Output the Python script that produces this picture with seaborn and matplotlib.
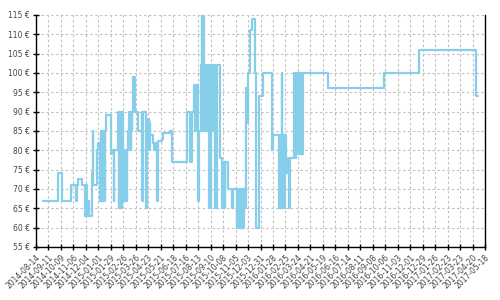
import matplotlib
matplotlib.use("Agg")
import matplotlib.pyplot as plt
import seaborn as sns
import pandas as pd

start_date = "2014-08-14"
end_date = "2017-05-18"

# days since start_date at which the price changes (step-post)
day = [16, 50, 58, 78, 90, 92, 95, 103, 109, 110, 113, 115, 117, 118, 126, 128, 129, 138, 140, 142,
       144, 145, 146, 147, 148, 149, 150, 151, 152, 153, 154, 155, 156,
       157, 168, 170, 175, 176,
       185, 186, 187, 188, 189, 190, 191, 192, 193, 194, 195,
       196, 197, 198, 199, 200, 201, 202, 203, 204, 205,
       206, 209, 211, 212, 213, 214, 215, 216, 218, 223, 230, 237, 239, 240, 248,
       249, 250, 251, 252, 253, 254, 255,
       256, 262, 265, 268, 272, 273, 282, 286, 301, 305, 340, 346, 350,
       355, 356, 357, 358, 359, 360, 361, 363, 365,
       370, 372, 373, 374, 375, 376, 378, 379, 380, 381, 382, 383, 384, 385, 386, 387, 388,
       390, 391, 392, 393, 394, 395, 396, 397, 398, 399, 400, 401, 402, 406,
       413, 414, 417, 423, 424, 425, 432, 441, 442,
       451, 452, 453, 454, 455, 456, 457, 458, 459, 460, 461, 462, 463, 464, 465, 466, 467, 468,
       469, 471, 472, 473, 474, 475, 476, 477, 480, 484, 491, 493, 501, 509, 529, 533,
       546, 547, 548, 549, 550, 551, 552, 553, 554, 555, 556, 557, 558, 559, 560,
       561, 562, 563, 564, 565, 566, 567, 568, 569, 570,
       580, 581, 582, 583, 584, 585,
       589, 590, 591, 592, 593, 594, 595, 596, 597, 598, 599,
       655, 781, 860, 988, 993]

price = [67, 74, 67, 71, 67, 71, 72.5, 71, 68, 63, 71, 63, 67, 63, 74, 85, 71, 80, 82, 80,
         67, 85, 80, 67, 85, 67, 82, 85, 67, 85, 80, 67, 85,
         89, 79, 80, 67, 80,
         90, 65, 90, 80, 65, 90, 65, 90, 80, 90, 80,
         67, 80, 67, 80, 67, 80, 67, 80, 67, 80,
         85, 90, 80, 90, 80, 90, 85, 90, 99, 90, 85, 90, 67, 90, 65,
         88, 80, 87, 80, 88, 80, 87,
         84, 82, 80, 82, 67, 82.5, 83, 84.5, 85, 77, 90, 77, 90,
         97, 85, 97, 85, 97, 85, 97, 67, 85,
         102, 115, 85, 115, 102, 115, 85, 102, 85, 102, 85, 102, 85, 102, 85, 102, 65,
         102, 85, 65, 102, 85, 102, 85, 102, 85, 102, 85, 102, 65, 102,
         90, 78, 65, 77, 65, 77, 70, 65, 70,
         60, 70, 60, 70, 60, 65, 60, 70, 60, 70, 60, 65, 60, 70, 60, 70, 60, 70,
         65, 87, 96, 87, 96, 87, 96, 100, 111, 114, 100, 60, 94, 100, 80, 84,
         65, 84, 65, 84, 65, 84, 100, 65, 84, 65, 84, 65, 84, 65, 84,
         78, 74, 78, 74, 78, 74, 78, 74, 65, 78,
         100, 78, 100, 78, 100, 79,
         100, 79, 100, 79, 100, 79, 100, 79, 100, 79, 100,
         96, 100, 106, 94, 94]

x_tick_labels = ["2014-08-14", "2014-09-11", "2014-10-09", "2014-11-06", "2014-12-04",
                 "2015-01-01", "2015-01-29", "2015-02-26", "2015-03-26", "2015-04-23",
                 "2015-05-21", "2015-06-18", "2015-07-16", "2015-08-13", "2015-09-10",
                 "2015-10-08", "2015-11-05", "2015-12-03", "2015-12-31", "2016-01-28",
                 "2016-02-25", "2016-03-24", "2016-04-21", "2016-05-19", "2016-06-16",
                 "2016-07-14", "2016-08-11", "2016-09-08", "2016-10-06", "2016-11-03",
                 "2016-12-01", "2016-12-29", "2017-01-26", "2017-02-23", "2017-03-23",
                 "2017-04-20", "2017-05-18"]
y_ticks = [55, 60, 65, 70, 75, 80, 85, 90, 95, 100, 105, 110, 115]

df = pd.DataFrame({
    "date": pd.Timestamp(start_date) + pd.to_timedelta(day, unit="D"),
    "price": price,
})

sns.set_style("ticks")
plt.rcParams["font.family"] = ["DejaVu Sans"]

fig = plt.figure(figsize=(5, 3), dpi=100)
ax = fig.add_axes([0.072, 0.177, 0.898, 0.773])

sns.lineplot(data=df, x="date", y="price", ax=ax, estimator=None,
             drawstyle="steps-post", color="#87CEEB", linewidth=1.6, zorder=3)

xt = pd.to_datetime(x_tick_labels)
ax.set_xlim(pd.Timestamp(start_date), pd.Timestamp(end_date))
ax.set_ylim(55, 115)
ax.set_xticks(xt)
ax.set_xticklabels(x_tick_labels, rotation=45, ha="right", rotation_mode="anchor",
                   fontsize=5.5, color="#444444")
ax.set_yticks(y_ticks)
ax.set_yticklabels([f"{v} €" for v in y_ticks], fontsize=5.5, color="#444444")

ax.grid(True, color="#c0c0c0", linestyle=(0, (2.2, 2.2)), linewidth=0.8, zorder=0)
ax.tick_params(direction="inout", length=5, width=1, colors="black", labelcolor="#444444", pad=2)
ax.spines["top"].set_visible(False)
for s in ["left", "bottom", "right"]:
    ax.spines[s].set_visible(True)
    ax.spines[s].set_color("black")
    ax.spines[s].set_linewidth(1)
ax.set_xlabel("")
ax.set_ylabel("")

fig.savefig("out.png", dpi=100)
